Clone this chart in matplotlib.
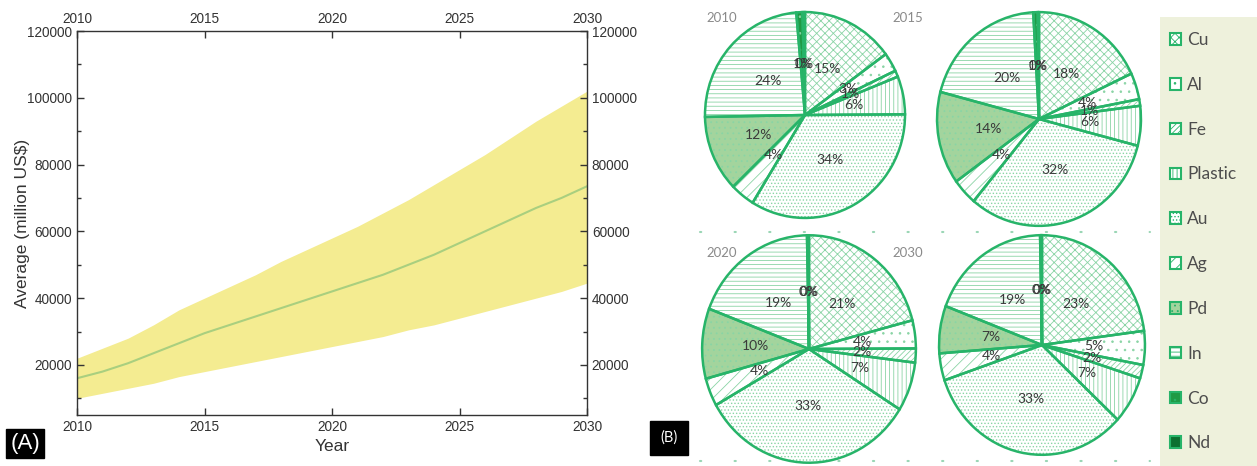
import matplotlib
matplotlib.use('Agg')
import matplotlib.pyplot as plt
from matplotlib.patches import Patch, Rectangle
from matplotlib.ticker import MultipleLocator

# ---------------- data ----------------
years = [2010, 2011, 2012, 2013, 2014, 2015, 2016, 2017, 2018, 2019, 2020,
         2021, 2022, 2023, 2024, 2025, 2026, 2027, 2028, 2029, 2030]
mean_vals = [16000, 18000, 20500, 23500, 26500, 29500, 32000, 34500, 37000, 39500, 42000,
             44500, 47000, 50000, 53000, 56500, 60000, 63500, 67000, 70000, 73500]
upper_vals = [22000, 25000, 28000, 32000, 36500, 40000, 43500, 47000, 51000, 54500, 58000,
              61500, 65500, 69500, 74000, 78500, 83000, 88000, 93000, 97500, 102000]
lower_vals = [10000, 11500, 13000, 14500, 16500, 18000, 19500, 21000, 22500, 24000, 25500,
              27000, 28500, 30500, 32000, 34000, 36000, 38000, 40000, 42000, 44500]

materials = ['Cu', 'Al', 'Fe', 'Plastic', 'Au', 'Ag', 'Pd', 'In', 'Co', 'Nd']
pie_years = ['2010', '2015', '2020', '2030']
share_2010 = [15, 3, 1, 6, 34, 4, 12, 24, 1.0, 0.4]
share_2015 = [18, 4, 1, 6, 32, 4, 14, 20, 0.7, 0.2]
share_2020 = [21, 4, 2, 7, 33, 4, 10, 19, 0.2, 0.1]
share_2030 = [23, 5, 2, 7, 33, 4, 7, 19, 0.2, 0.1]
shares = [share_2010, share_2015, share_2020, share_2030]

# ---------------- styles ----------------
W, H = 1257, 466
OUT = '#27b469'
HAT = '#8ad4a5'
face = ['white', 'white', 'white', 'white', 'white', 'white', '#a3d49d', 'white', '#1f9a45', '#0c7030']
hatches = ['xxxx', '..', '//////', '||||', '.....', '///', '...', '----', '..', None]

plt.rcParams['hatch.linewidth'] = 0.6


def box(x0, y0, x1, y1):
    return [x0 / W, 1 - y1 / H, (x1 - x0) / W, (y1 - y0) / H]


fig = plt.figure(figsize=(W / 100, H / 100), dpi=100)

# ---------------- panel A ----------------
axA = fig.add_axes(box(77, 31, 587, 415))
axA.fill_between(years, lower_vals, upper_vals, color='#f4ec91', lw=0)
axA.plot(years, mean_vals, color='#a9cf7f', lw=1.5)
axA.set_xlim(2010, 2030)
axA.set_ylim(5000, 120000)
axA.xaxis.set_major_locator(MultipleLocator(5))
axA.yaxis.set_major_locator(MultipleLocator(20000))
axA.yaxis.set_minor_locator(MultipleLocator(10000))
axA.tick_params(which='both', direction='in', top=True, right=True,
                labeltop=True, labelright=True, colors='#333333', labelcolor='#333333',
                labelsize=9.8)
axA.tick_params(which='major', length=5, width=1)
axA.tick_params(which='minor', length=3, width=1)
for lab in (axA.xaxis.get_ticklabels(which='both') + axA.yaxis.get_ticklabels(which='both')):
    lab.set_fontfamily('Liberation Sans')
for s in axA.spines.values():
    s.set_color('#333333')
    s.set_linewidth(1)
axA.set_xlabel('Year', fontsize=12.5, family='Liberation Sans', color='#333333', labelpad=4)
axA.set_ylabel('Average (million US$)', fontsize=12.5, family='Liberation Sans', color='#333333',
               labelpad=-2)
fig.text(25 / W, 1 - 443 / H, '(A)', color='white', fontsize=16, family='Liberation Sans',
         ha='center', va='center',
         bbox=dict(boxstyle='square,pad=0.18', facecolor='black', edgecolor='black'))

# ---------------- panel B background ----------------
axB = fig.add_axes(box(600, 0, 1257, 466))
axB.set_xlim(600, 1257)
axB.set_ylim(466, 0)
axB.axis('off')
axB.add_patch(Rectangle((1160, 17), 97, 449, facecolor='#eef1dc', edgecolor='none'))
for yy in (232, 461):
    axB.plot([700, 1150], [yy, yy], color='#9ad6b5', lw=1.5, ls=(0, (0.6, 16)),
             dash_capstyle='round')
axB.text(669, 438, '(B)', color='white', fontsize=10.5, family='Lato', ha='center', va='center',
         bbox=dict(boxstyle='square,pad=0.7', facecolor='black', edgecolor='black'))

handles = [Patch(facecolor=face[i], edgecolor=OUT, hatch=hatches[i], lw=1.5) for i in range(len(materials))]
leg = axB.legend(handles, materials, loc='upper left', bbox_to_anchor=(1170, 32),
                 bbox_transform=axB.transData, frameon=False, handlelength=0.65,
                 handleheight=0.65, handletextpad=0.35, labelspacing=1.66,
                 prop=dict(family='Lato', size=12.5), borderaxespad=0, borderpad=0)
for t in leg.get_texts():
    t.set_color('#4d4d4d')

# ---------------- pies ----------------
pie_boxes = [(703, 10, 907, 220), (935, 10, 1143, 228), (700, 233, 918, 465), (937, 233, 1147, 457)]
title_pos = [(706, 18), (908, 18), (706, 253), (908, 253)]

for yr, vals, pb, tp in zip(pie_years, shares, pie_boxes, title_pos):
    ax = fig.add_axes(box(*pb))
    wedges, _ = ax.pie(vals, startangle=90, counterclock=False,
                       colors=face, wedgeprops=dict(edgecolor=HAT, lw=0))
    for w, h in zip(wedges, hatches):
        if h:
            w.set_hatch(h)
    wedges2, _, autotexts = ax.pie(vals, startangle=90, counterclock=False,
                                   autopct=lambda p: f'{p:.0f}%', pctdistance=0.5,
                                   wedgeprops=dict(facecolor='none', edgecolor=OUT, lw=1.8),
                                   textprops=dict(family='Lato', size=10, color='#3a3a3a'))
    ax.set_aspect('auto')
    ax.set_xlim(-1.02, 1.02)
    ax.set_ylim(-1.02, 1.02)
    axB.text(tp[0], tp[1], yr, color='#8a8a8a', fontsize=9.5, family='Lato',
             ha='left' if tp[0] < 800 else 'center', va='center')

fig.savefig('out.png', dpi=100)
